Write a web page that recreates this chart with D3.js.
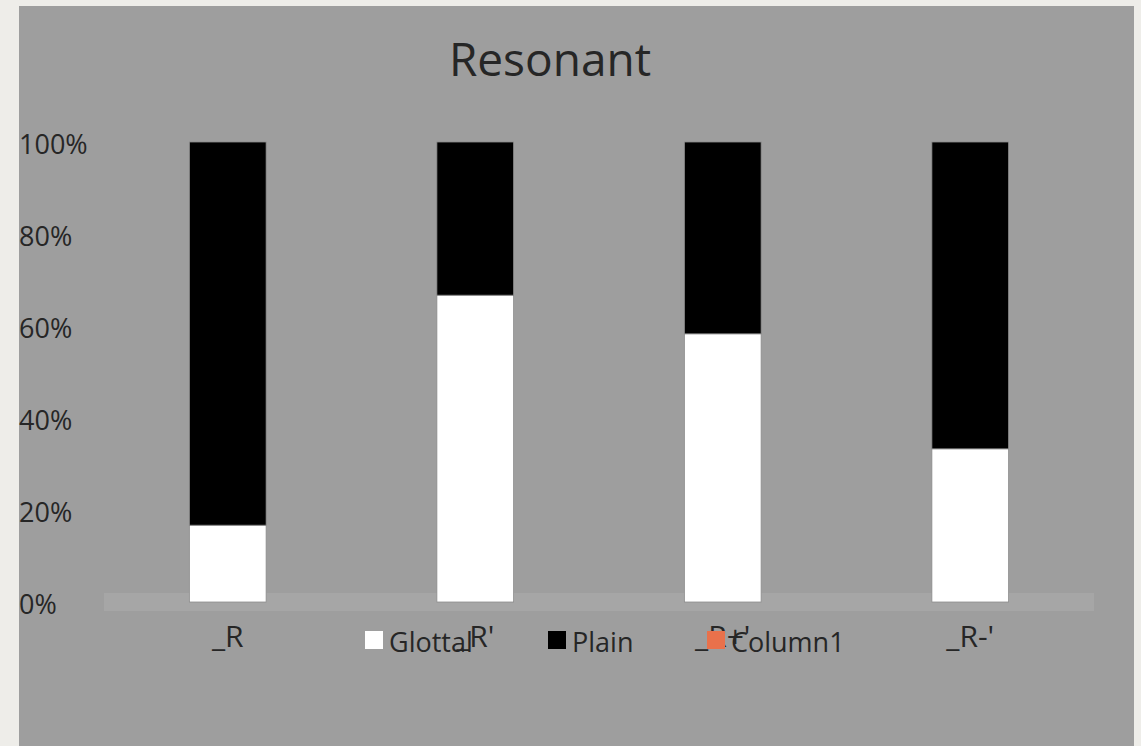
<!DOCTYPE html>
<html>
<head>
<meta charset="utf-8">
<script src="https://cdn.jsdelivr.net/npm/d3@7"></script>
<style>
  html, body { margin: 0; padding: 0; background: #eeede9; }
  svg { display: block; }
  text { font-family: "Open Sans", "DejaVu Sans", sans-serif; fill: #262626; }
</style>
</head>
<body>
<svg id="chart" width="1141" height="746"></svg>
<script>
// Share of glottal vs plain resonants per context (percent)
const categories = ["_R", "_R'", "_R+'", "_R-'"];
const glottal = [16.7, 66.7, 58.3, 33.3];
const plain = [83.3, 33.3, 41.7, 66.7];
const column1 = [0, 0, 0, 0];
const seriesNames = ["Glottal", "Plain", "Column1"];
const seriesColors = ["#ffffff", "#000000", "#e9714b"];
const yTicks = [0, 20, 40, 60, 80, 100];

const svg = d3.select("#chart");

// chart panel
svg.append("rect")
  .attr("x", 19).attr("y", 6).attr("width", 1115).attr("height", 740)
  .attr("fill", "#9e9e9e");

const x = d3.scaleBand().domain(categories).range([104, 1094]).paddingInner(0.69).paddingOuter(0.345);
const y = d3.scaleLinear().domain([0, 100]).range([602, 142]);

// floor band under the bars
svg.append("rect")
  .attr("x", 104).attr("y", 593).attr("width", 990).attr("height", 18)
  .attr("fill", "#a6a6a6");

// stacked data
const rows = categories.map((c, i) => ({ cat: c, Glottal: glottal[i], Plain: plain[i], Column1: column1[i] }));
const stacked = d3.stack().keys(seriesNames)(rows);

svg.append("g").selectAll("g")
  .data(stacked)
  .join("g")
  .attr("fill", (d, i) => seriesColors[i])
  .selectAll("rect")
  .data(d => d.filter(s => s[1] - s[0] > 0))
  .join("rect")
  .attr("x", d => x(d.data.cat))
  .attr("width", x.bandwidth())
  .attr("y", d => y(d[1]))
  .attr("height", d => y(d[0]) - y(d[1]))
  .attr("stroke", "#8c8c8c")
  .attr("stroke-width", 0.8);

// y tick labels
svg.append("g").selectAll("text")
  .data(yTicks)
  .join("text")
  .attr("x", 19)
  .attr("y", d => y(d) + 12)
  .attr("font-size", 27)
  .text(d => d + "%");

// category labels
svg.append("g").selectAll("text")
  .data(categories)
  .join("text")
  .attr("x", d => x(d) + x.bandwidth() / 2)
  .attr("y", 647)
  .attr("text-anchor", "middle")
  .attr("font-size", 30)
  .text(d => d);

// legend
const legendX = [365, 548, 707];
const legend = svg.append("g").selectAll("g")
  .data(seriesNames)
  .join("g")
  .attr("transform", (d, i) => `translate(${legendX[i]},0)`);
legend.append("rect")
  .attr("x", 0).attr("y", 631).attr("width", 18).attr("height", 18)
  .attr("fill", (d, i) => seriesColors[i]);
legend.append("text")
  .attr("x", 24).attr("y", 652)
  .attr("font-size", 27)
  .text(d => d);

// title
svg.append("text")
  .attr("x", 550).attr("y", 76)
  .attr("text-anchor", "middle")
  .attr("font-size", 46)
  .text("Resonant");
</script>
</body>
</html>
